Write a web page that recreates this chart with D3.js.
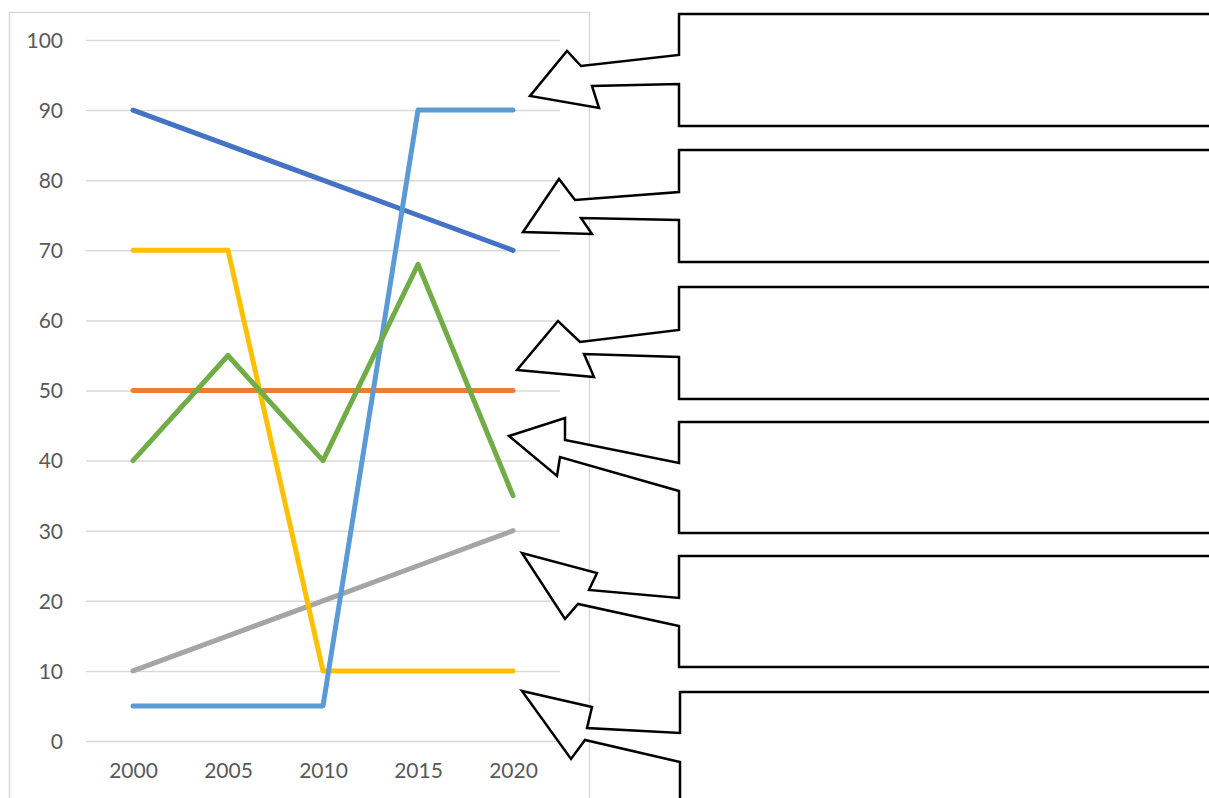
<!DOCTYPE html>
<html>
<head>
<meta charset="utf-8">
<script src="https://cdn.jsdelivr.net/npm/d3@7"></script>
<style>
  html, body { margin: 0; padding: 0; background: #fff; }
  svg { display: block; }
  .tick text { font-family: Lato, "Open Sans", sans-serif; fill: #595959; }
</style>
</head>
<body>
<div id="chart"></div>
<script>
// chart values
var years = [2000, 2005, 2010, 2015, 2020];
var yTicks = [0, 10, 20, 30, 40, 50, 60, 70, 80, 90, 100];

var series1 = [90, 85, 80, 75, 70];
var series2 = [50, 50, 50, 50, 50];
var series3 = [10, 15, 20, 25, 30];
var series4 = [70, 70, 10, 10, 10];
var series5 = [5, 5, 5, 90, 90];
var series6 = [40, 55, 40, 68, 35];

var seriesList = [series1, series2, series3, series4, series5, series6];
var seriesColors = ["#4472C4", "#ED7D31", "#A5A5A5", "#FFC000", "#5B9BD5", "#70AD47"];

// callout shapes (box on the right, arrow pointing back at the chart)
var callouts = [
    [[1215, 14], [679, 14], [679, 55], [581, 66], [567, 51], [530, 96], [599, 108], [592, 86], [679, 84], [679, 126], [1215, 126]],
    [[1215, 150], [679, 150], [679, 192], [575, 200], [559, 179], [523, 232], [592, 234], [581, 218], [679, 220], [679, 262], [1215, 262]],
    [[1215, 287], [679, 287], [679, 330], [580, 342], [558, 321], [517, 370], [594, 377], [584, 354], [679, 357], [679, 399], [1215, 399]],
    [[1215, 422], [679, 422], [679, 463], [565, 440], [565, 418], [509, 436], [557, 476], [560, 457], [679, 491], [679, 533], [1215, 533]],
    [[1215, 556], [679, 556], [679, 598], [589, 590], [597, 573], [522, 553], [565, 619], [578, 604], [679, 626], [679, 667], [1215, 667]],
    [[1215, 692], [680, 692], [680, 733], [587, 728], [592, 707], [522, 691], [571, 759], [585, 740], [680, 762], [680, 810], [1215, 810]]
];

(function() {
    "use strict";

    var width = 1209,
        height = 798,

        svg = d3.select("#chart")
            .append("svg")
            .attr("width", width)
            .attr("height", height);

    var x = d3.scalePoint()
            .domain(years)
            .range([133, 513]),
        y = d3.scaleLinear()
            .domain([0, 100])
            .range([741, 40]);

    // chart area border
    svg.append("rect")
        .attr("x", 9.5)
        .attr("y", 12.5)
        .attr("width", 580)
        .attr("height", 820)
        .attr("fill", "none")
        .attr("stroke", "#d9d9d9")
        .attr("stroke-width", 1.5);

    // gridlines + y labels
    var yAxis = svg.append("g")
        .attr("transform", "translate(86,0)")
        .call(d3.axisLeft(y).tickValues(yTicks).tickSize(-474).tickPadding(23));
    yAxis.select(".domain").remove();
    yAxis.selectAll(".tick line")
        .attr("stroke", "#d9d9d9")
        .attr("stroke-width", 1.5);
    yAxis.selectAll(".tick text")
        .attr("font-size", 21)
        .attr("dy", "0.35em");

    // x labels
    var xAxis = svg.append("g")
        .attr("transform", "translate(0,741)")
        .call(d3.axisBottom(x).tickSize(0).tickPadding(22));
    xAxis.select(".domain").remove();
    xAxis.selectAll(".tick text")
        .attr("font-size", 21);

    var line = d3.line()
        .x(function(d, i) { return x(years[i]); })
        .y(function(d) { return y(d); });

    svg.append("g")
        .selectAll("path")
        .data(seriesList)
        .join("path")
        .attr("d", line)
        .attr("fill", "none")
        .attr("stroke", function(d, i) { return seriesColors[i]; })
        .attr("stroke-width", 5)
        .attr("stroke-linecap", "round")
        .attr("stroke-linejoin", "round");

    svg.append("g")
        .selectAll("path")
        .data(callouts)
        .join("path")
        .attr("d", function(d) { return d3.line()(d); })
        .attr("fill", "#fff")
        .attr("stroke", "#000")
        .attr("stroke-width", 2.5)
        .attr("stroke-linejoin", "miter");
}());
</script>
</body>
</html>
